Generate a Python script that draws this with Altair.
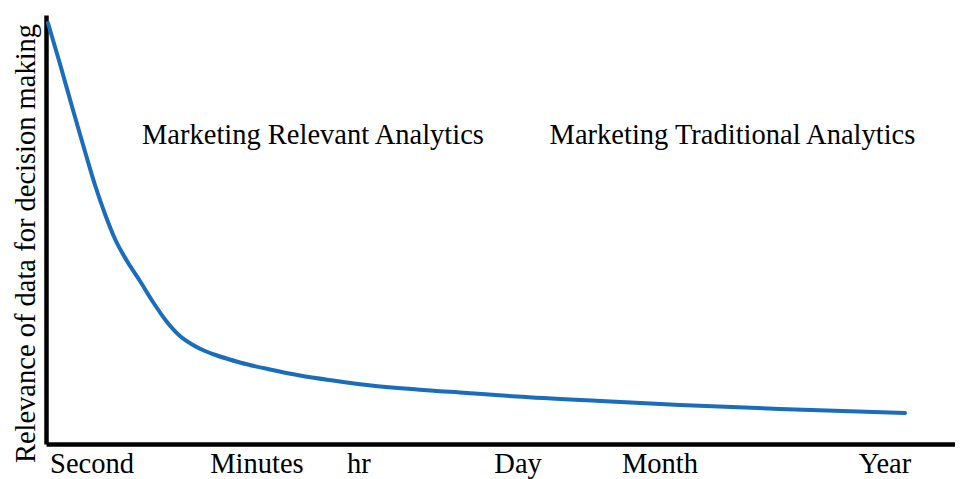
import altair as alt
import pandas as pd

# Curve: time position (0-100 scale) vs relevance (0-100)
time_pos = [0.22, 1.54, 2.97, 4.40, 5.39, 6.49, 7.59, 8.91, 10.34, 11.77, 13.31,
            14.74, 16.17, 17.49, 18.81, 21.34, 24.64, 27.94, 31.57, 35.31, 40.81,
            46.31, 51.82, 60.95, 69.75, 80.75, 94.50]
relevance = [98.14, 88.58, 77.86, 67.37, 60.37, 53.61, 47.79, 42.66, 38.00, 33.10,
             28.44, 25.17, 23.08, 21.68, 20.63, 19.00, 17.37, 15.97, 14.80, 13.75,
             12.70, 11.89, 11.07, 10.02, 9.09, 8.16, 7.23]

# Time-scale tick labels
tick_labels = ["Second", "Minutes", "hr", "Day", "Month", "Year"]
tick_pos = [5.06, 23.21, 34.43, 51.93, 67.55, 92.30]

# Annotations
note_text = ["Marketing Relevant Analytics", "Marketing Traditional Analytics"]
note_x = [29.37, 75.52]
note_y = [72.0, 72.0]

W, H = 909, 429
FONT = "Liberation Serif"
FS = 28.5

curve_df = pd.DataFrame({"t": time_pos, "r": relevance})
ticks_df = pd.DataFrame({"label": tick_labels, "t": tick_pos})
notes_df = pd.DataFrame({"text": note_text, "t": note_x, "r": note_y})

xscale = alt.Scale(domain=[0, 100], nice=False, zero=False)
yscale = alt.Scale(domain=[0, 100], nice=False, zero=False)

curve = alt.Chart(curve_df).mark_line(
    color="#1a6cbc", strokeWidth=4, interpolate="monotone", strokeCap="round"
).encode(
    x=alt.X("t:Q", scale=xscale,
            axis=alt.Axis(title=None, labels=False, ticks=False, grid=False,
                          domainColor="black", domainWidth=4.5)),
    y=alt.Y("r:Q", scale=yscale,
            axis=alt.Axis(title="Relevance of data for decision making",
                          labels=False, ticks=False, grid=False,
                          domainColor="black", domainWidth=4.5,
                          titleFont=FONT, titleFontSize=FS, titleFontWeight="normal",
                          titleColor="black", titleX=-12, titleY=228,
                          titleBaseline="alphabetic", titleAngle=270)),
)

ticks = alt.Chart(ticks_df).mark_text(
    font=FONT, fontSize=FS, color="black", baseline="alphabetic", align="center"
).encode(
    x=alt.X("t:Q", scale=xscale),
    y=alt.value(H + 29),
    text="label:N",
)

notes = alt.Chart(notes_df).mark_text(
    font=FONT, fontSize=FS, color="black", baseline="middle", align="center"
).encode(
    x=alt.X("t:Q", scale=xscale),
    y=alt.Y("r:Q", scale=yscale),
    text="text:N",
)

chart = alt.layer(curve, ticks, notes).properties(
    width=W, height=H,
    background="white",
    autosize=alt.AutoSizeParams(type="none"),
    padding={"left": 38, "top": 7, "right": 0, "bottom": 35},
).configure_view(stroke=None).configure_axis(grid=False)

chart.save("out.html", embed_options={"renderer": "svg", "actions": False})
